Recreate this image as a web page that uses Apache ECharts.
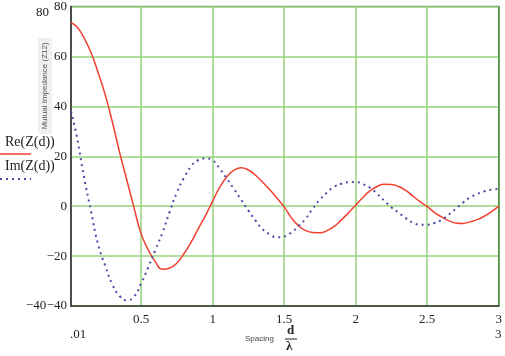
<!DOCTYPE html>
<html><head><meta charset="utf-8">
<script src="https://cdn.jsdelivr.net/npm/echarts@6/dist/echarts.min.js"></script>
<style>html,body{margin:0;padding:0;background:#fff}#c{width:505px;height:356px}</style>
</head><body><div id="c"></div>
<script>
var spacing = [0.01,0.05,0.1,0.15,0.2,0.25,0.3,0.35,0.4,0.45,0.5,0.55,0.6,0.65,0.7,0.75,0.8,0.85,0.9,0.95,1.0,1.05,1.1,1.15,1.2,1.25,1.3,1.35,1.4,1.45,1.5,1.55,1.6,1.65,1.7,1.75,1.8,1.85,1.9,1.95,2.0,2.05,2.1,2.15,2.2,2.25,2.3,2.35,2.4,2.45,2.5,2.55,2.6,2.65,2.7,2.75,2.8,2.85,2.9,2.95,3.0];
var reZ = [73.5,72,67.5,61.5,53.5,44.5,33.5,21.5,10.5,-0.5,-11,-17.5,-22.3,-25.3,-24.8,-22.8,-19,-14.4,-9,-3.8,2,7.6,11.8,14.4,15.4,14.5,12.4,9.6,6.6,3.2,-0.3,-4.6,-7.8,-9.8,-10.6,-10.7,-9.8,-8.1,-5.5,-2.6,0.4,3.5,6.1,7.9,8.8,8.7,7.9,6.3,4.0,1.8,-0.2,-2.5,-4.3,-5.8,-6.7,-6.9,-6.3,-5.4,-4.0,-2.2,0];
var imZ = [38,28,12,-2,-15.5,-24,-31.5,-36,-37.7,-36.3,-31,-24.5,-17.5,-10.5,-2.2,5.5,11.4,16,18.5,19.1,18.3,15,11,6.8,2.5,-1.8,-5.8,-9.3,-11.3,-12.5,-12.2,-10.6,-8,-5,-1,2.6,5.5,7.8,9.0,9.6,9.7,8.8,7.4,5.0,2.2,-0.5,-2.6,-4.8,-6.6,-7.4,-7.4,-6.8,-5.5,-3.4,-1.0,1.4,3.5,4.9,6.0,6.6,6.9];
var xTicks = [0.5,1,1.5,2,2.5,3];
var yTicks = [-40,-20,0,20,40,60,80];
var seriesNames = ['Re(Z(d))','Im(Z(d))'];

function pairs(ys){ return spacing.map(function(x,i){ return [x, ys[i]]; }); }
function fmtNum(v){ return v < 0 ? '\u2212' + Math.abs(v) : String(v); }

var chart = echarts.init(document.getElementById('c'), null, {renderer:'canvas'});
var serif = 'Liberation Serif';
chart.setOption({
  animation: false,
  grid: {left:71, right:6, top:4, bottom:50, show:true, borderColor:'#7a7a7a', borderWidth:1.5, backgroundColor:'#fff'},
  xAxis: {
    type:'value', min:0.01, max:3,
    axisLine:{show:true, onZero:false, lineStyle:{color:'#333', width:1.5}},
    axisTick:{show:false, customValues: xTicks},
    axisLabel:{customValues: xTicks, margin:7, color:'#222', fontFamily:serif, fontSize:13,
      formatter:function(v){ return String(v); }},
    splitLine:{show:true, lineStyle:{color:['#98d37a','#98d37a','#98d37a','#98d37a','#98d37a','#4e9e3e'], width:1.5}}
  },
  yAxis: {
    type:'value', min:-40, max:80, interval:20,
    axisLine:{show:true, onZero:false, lineStyle:{color:'#333', width:1.5}},
    axisTick:{show:false},
    axisLabel:{margin:4, color:'#222', fontFamily:serif, fontSize:13, formatter:fmtNum},
    splitLine:{show:true, lineStyle:{color:'#98d37a', width:1.5}}
  },
  series: [
    {name:seriesNames[0], type:'line', data:pairs(reZ), smooth:0.5, showSymbol:false,
     lineStyle:{color:'#f0402f', width:1.5}},
    {name:seriesNames[1], type:'line', data:pairs(imZ), smooth:0.5, showSymbol:false,
     lineStyle:{color:'#4a4aa6', width:2, type:[2,4]}}
  ],
  graphic: [
    {type:'text', left:36, top:6, style:{text:'80', font:'13px "Liberation Serif"', fill:'#222'}},
    {type:'text', left:26, top:299, style:{text:'\u221240', font:'13px "Liberation Serif"', fill:'#222'}},
    {type:'text', left:70, top:328, style:{text:'.01', font:'13px "Liberation Serif"', fill:'#222'}},
    {type:'text', left:495, top:328, style:{text:'3', font:'13px "Liberation Serif"', fill:'#222'}},
    {type:'rect', shape:{x:38, y:38, width:14, height:96}, style:{fill:'#f0f0f0'}},
    {type:'text', x:45, y:86, rotation:Math.PI/2, style:{text:'Mutual Impedance (Z12)', font:'8px "Liberation Sans"', fill:'#555', align:'center', verticalAlign:'middle'}},
    {type:'text', left:5, top:135, style:{text:seriesNames[0], font:'14px "Liberation Serif"', fill:'#222'}},
    {type:'line', shape:{x1:0, y1:154, x2:31, y2:154}, style:{stroke:'#f0402f', lineWidth:1.5}},
    {type:'text', left:5, top:159, style:{text:seriesNames[1], font:'14px "Liberation Serif"', fill:'#222'}},
    {type:'line', shape:{x1:0, y1:179, x2:31, y2:179}, style:{stroke:'#4a4aa6', lineWidth:2, lineDash:[2,4]}},
    {type:'text', left:245, top:335, style:{text:'Spacing', font:'8px "Liberation Sans"', fill:'#444'}},
    {type:'text', left:287, top:324, style:{text:'d', font:'bold 13px "Liberation Serif"', fill:'#222'}},
    {type:'line', shape:{x1:285, y1:339, x2:297, y2:339}, style:{stroke:'#222', lineWidth:1}},
    {type:'text', left:286, top:340, style:{text:'\u03bb', font:'bold 13px "Liberation Serif"', fill:'#222'}}
  ]
});
</script></body></html>
